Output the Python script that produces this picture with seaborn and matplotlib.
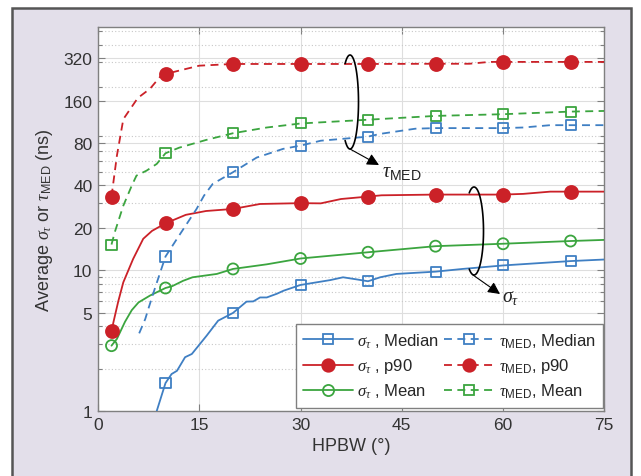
import matplotlib
matplotlib.use("Agg")
import matplotlib.pyplot as plt
import numpy as np
import pandas as pd
import seaborn as sns
from matplotlib.lines import Line2D
from matplotlib.patches import Rectangle
from matplotlib.ticker import LogLocator, NullFormatter

# --- data ------------------------------------------------------------------
marker_x = [2, 10, 20, 30, 40, 50, 60, 70]

sigma_median_x = [8.7, 10, 10.9, 11.7, 12.9, 13.9, 16.1, 17.8, 20, 22, 23, 24, 25,
                  26.5, 27.5, 30, 34.4, 36.3, 38.3, 40, 41.8, 44.2, 50, 54, 60, 70, 75]
sigma_median_y = [1.0, 1.58, 1.83, 1.93, 2.41, 2.54, 3.43, 4.38, 4.97, 5.98, 6.0, 6.4, 6.4,
                  6.8, 7.15, 7.85, 8.5, 8.9, 8.6, 8.34, 8.9, 9.4, 9.76, 10.2, 10.8, 11.6, 11.9]

sigma_p90_x = [2, 2.3, 3, 3.75, 5.2, 6.7, 8, 10, 13, 16, 20, 24, 30, 33, 36, 40, 42,
               50, 60, 63, 67, 70, 75]
sigma_p90_y = [3.68, 4.3, 6.0, 8.2, 12, 16.7, 19, 21.5, 24.7, 26.3, 27.2, 29.5, 29.9,
               29.8, 32, 33.3, 34.0, 34.4, 34.4, 34.8, 36.1, 36.1, 36.1]

sigma_mean_x = [2, 2.8, 4, 5, 6, 7.7, 10, 11, 12.6, 14, 17.6, 20, 25, 30, 40, 50, 60, 70, 75]
sigma_mean_y = [2.91, 3.25, 4.3, 5.2, 5.9, 6.6, 7.47, 7.7, 8.4, 8.9, 9.4, 10.2, 11.0, 12.1,
                13.4, 14.8, 15.4, 16.1, 16.4]

tau_median_x = [6.1, 7.0, 7.45, 8.4, 10, 11.7, 14.6, 15.7, 17, 20, 23.5, 27.4, 30, 33,
                40, 41.8, 47, 50, 60, 63, 67, 70, 75]
tau_median_y = [3.56, 4.5, 5.3, 7.35, 12.5, 16.7, 27.2, 33.8, 41, 49.6, 63, 72.6, 76.6, 83,
                88.7, 92.8, 101, 102, 102, 103, 107, 107, 107]

tau_p90_x = [2, 2.8, 3.75, 5.9, 7.7, 9.2, 10, 12, 15, 20, 30, 40, 50, 55, 58, 60, 70, 75]
tau_p90_y = [33.3, 65, 118, 167, 194, 236, 247, 261, 283, 291, 291, 291, 292, 292, 301,
             301, 301, 301]

tau_mean_x = [2, 2.5, 3.75, 5, 5.7, 7.2, 8.7, 10, 12, 16, 20, 25, 30, 40, 50, 60, 70, 75]
tau_mean_y = [15.2, 18.7, 28.7, 39.8, 46.9, 50.9, 56.8, 67.6, 74, 84, 93.8, 103, 110, 117,
              124.5, 128, 133.6, 135]

x_ticks = [0, 15, 30, 45, 60, 75]
y_ticks = [1, 5, 10, 20, 40, 80, 160, 320]
y_tick_labels = ["1", "5", "10", "20", "40", "80", "160", "320"]

# --- style ------------------------------------------------------------------
BLUE = "#3f7fc3"
RED = "#cb2128"
GREEN = "#3ba53f"
DASH = (0, (4.4, 3.0))

sns.set_theme(style="ticks")
plt.rcParams["font.family"] = ["Liberation Sans", "DejaVu Sans"]
plt.rcParams["mathtext.fontset"] = "custom"
plt.rcParams["mathtext.rm"] = "Liberation Sans"
plt.rcParams["mathtext.sf"] = "Liberation Sans"
plt.rcParams["mathtext.it"] = "Liberation Serif:italic"

W, H = 641, 477
AX_L, AX_R, AX_T, AX_B = 98, 604.3, 28.3, 412  # axes box in pixels

fig = plt.figure(figsize=(W / 100, H / 100), dpi=100, facecolor="white")
fig.patches.append(Rectangle((11.5 / W, -0.05), (631 - 11.5) / W, 1.05 - 9 / H,
                             transform=fig.transFigure, facecolor="#e3dfea",
                             edgecolor="#555555", linewidth=1.8, zorder=-10))
ax = fig.add_axes([AX_L / W, 1 - AX_B / H, (AX_R - AX_L) / W, (AX_B - AX_T) / H])
ax.set_facecolor("white")

series = [
    (sigma_median_x, sigma_median_y, BLUE, "-", "s", "none", 52, 7),
    (sigma_p90_x, sigma_p90_y, RED, "-", "o", RED, 88, 9),
    (sigma_mean_x, sigma_mean_y, GREEN, "-", "o", "none", 63, 8),
    (tau_median_x, tau_median_y, BLUE, DASH, "s", "none", 52, 7),
    (tau_p90_x, tau_p90_y, RED, DASH, "o", RED, 88, 9),
    (tau_mean_x, tau_mean_y, GREEN, DASH, "s", "none", 52, 7),
]

for xs, ys, col, ls, mk, face, s, _ in series:
    df = pd.DataFrame({"x": xs, "y": ys})
    sns.lineplot(data=df, x="x", y="y", ax=ax, color=col, linestyle=ls,
                 linewidth=1.3, estimator=None, sort=True, zorder=3)
    pts = df[df["x"].isin(marker_x)]
    sns.scatterplot(data=pts, x="x", y="y", ax=ax, marker=mk, s=s,
                    facecolor=face, edgecolor=col, linewidth=1.3, zorder=4)

ax.set_yscale("log")
ax.set_xlim(0, 75)
ax.set_ylim(1, 530)
ax.set_xticks(x_ticks)
ax.set_yticks(y_ticks)
ax.set_yticklabels(y_tick_labels)
ax.yaxis.set_minor_locator(LogLocator(base=10, subs=np.arange(2, 10), numticks=20))
ax.yaxis.set_minor_formatter(NullFormatter())

ax.grid(True, which="major", color="#dedede", linewidth=0.8, linestyle="-", zorder=0)
ax.grid(True, which="minor", axis="y", color="#c8c8c8", linewidth=0.8,
        linestyle=(0, (1, 2)), zorder=0)
ax.set_axisbelow(True)

ax.tick_params(which="both", direction="in", top=True, right=True,
               color="#808080", labelcolor="#333333", labelsize=12.5, pad=4)
ax.tick_params(which="major", length=5, width=0.8)
ax.tick_params(which="minor", length=3, width=0.8)
for sp in ax.spines.values():
    sp.set_color("#808080")
    sp.set_linewidth(1.0)

ax.set_xlabel("HPBW (°)", fontsize=13, color="#333333", labelpad=4)
ax.set_ylabel(r"Average $\sigma_\tau$ or $\tau_{\rm MED}$ (ns)", fontsize=13,
              color="#333333", labelpad=6)

# --- legend ---------------------------------------------------------------
labels = [r"$\sigma_\tau$ , Median", r"$\sigma_\tau$ , p90", r"$\sigma_\tau$ , Mean",
          r"$\tau_{\rm MED}$, Median", r"$\tau_{\rm MED}$, p90", r"$\tau_{\rm MED}$, Mean"]
handles = [Line2D([], [], color=col, linestyle=ls, linewidth=1.3, marker=mk,
                  markersize=ms, markerfacecolor=face, markeredgecolor=col,
                  markeredgewidth=1.3)
           for _, _, col, ls, mk, face, _, ms in series]
leg = ax.legend(handles, labels, ncol=2, loc="lower right",
                bbox_to_anchor=(0.9975, 0.008), fontsize=12, handlelength=3.0,
                handletextpad=0.25, columnspacing=0.3, labelspacing=0.4,
                borderpad=0.45, borderaxespad=0, fancybox=False, framealpha=1,
                edgecolor="#808080")
leg.get_frame().set_linewidth(1.0)
leg.set_zorder(6)


# --- annotations (brackets with arrows) -----------------------------------
def px(x, y):
    return ((x - AX_L) / (AX_R - AX_L), (AX_B - y) / (AX_B - AX_T))


def bracket(cx, cy, a, b, t1, t2, start, end, text, tpos):
    t = np.deg2rad(np.linspace(t1, t2, 120))
    pts = [px(cx + a * np.cos(v), cy - b * np.sin(v)) for v in t]
    ax.plot([p[0] for p in pts], [p[1] for p in pts], transform=ax.transAxes,
            color="black", linewidth=1.2, zorder=5, clip_on=False)
    ax.annotate("", xy=px(*end), xytext=px(*start), xycoords="axes fraction",
                textcoords="axes fraction",
                arrowprops=dict(arrowstyle="-|>", color="black", lw=0.8,
                                mutation_scale=18, shrinkA=0, shrinkB=0), zorder=5)
    ax.text(*px(*tpos), text, transform=ax.transAxes, fontsize=14.5, ha="left",
            va="center", color="#222222", zorder=5)


bracket(350, 103, 8.5, 47, -125, 125, (350, 150), (379, 166), r"$\tau_{\rm MED}$", (382, 172))
bracket(474, 232, 9.5, 44, -120, 120, (473, 276), (500, 295), r"$\sigma_\tau$", (502, 298))

fig.savefig("out.png", dpi=100, facecolor=fig.get_facecolor())
